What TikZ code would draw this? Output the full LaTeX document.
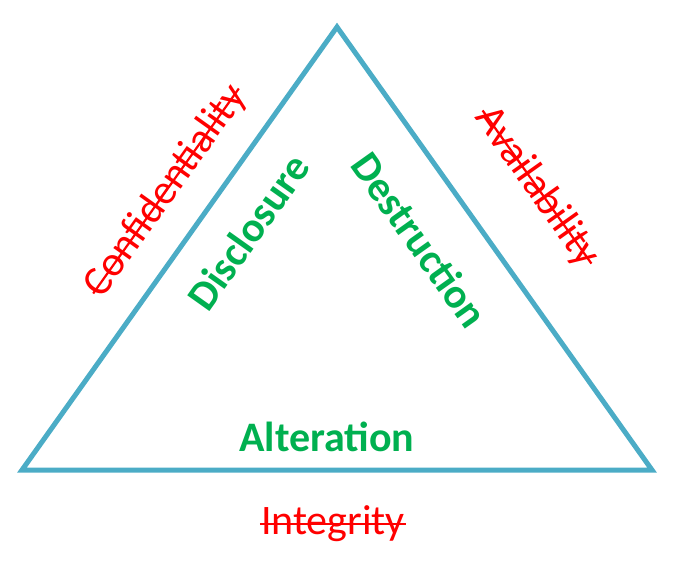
\documentclass[tikz,border=0pt]{standalone}
\usepackage{fontspec}
\setmainfont{Carlito}
\definecolor{edgeblue}{RGB}{75,172,198}
\definecolor{threatgreen}{RGB}{0,176,80}
\definecolor{goalred}{RGB}{255,0,0}
\begin{document}
\begin{tikzpicture}[x=1pt,y=-1pt,
  threat/.style={text=threatgreen,font=\fontsize{42}{44}\selectfont\bfseries},
  goal/.style={text=goalred,inner xsep=1pt,font=\fontsize{42}{44}\selectfont},
  strike/.style={goalred,line width=2.2pt}]
\useasboundingbox (0,0) rectangle (688,571);
\coordinate (top) at (337,27);
\coordinate (left) at (22,470);
\coordinate (right) at (652,470);
\draw[edgeblue,line width=5pt,line join=miter] (top) -- (left) -- (right) -- cycle;

\node[goal,rotate=54.6] (conf) at (166,191) {Confidentiality};
\node[goal,rotate=-54.6] (avail) at (537,187) {Availability};
\node[goal] (integ) at (333,524) {Integrity};
\foreach \n in {conf,avail,integ}
  \draw[strike] (\n.west) -- (\n.east);

\node[threat,rotate=54.6] (discl) at (248,232) {Disclosure};
\node[threat,rotate=-54.6] (destr) at (420,240) {Destruction};
\node[threat] (alter) at (327,437) {Alteration};
\end{tikzpicture}
\end{document}
